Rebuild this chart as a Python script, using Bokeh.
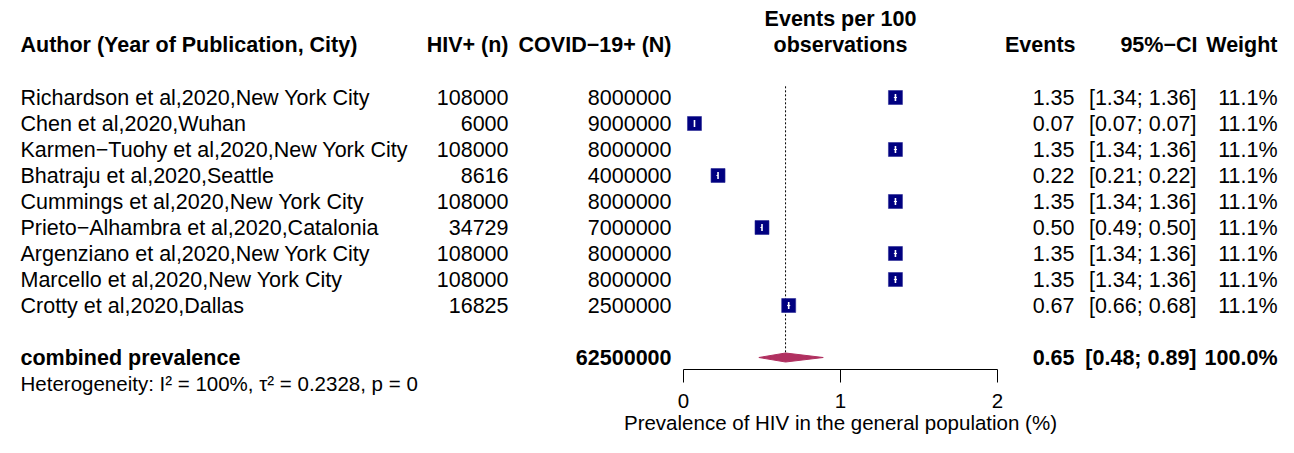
from bokeh.plotting import figure
from bokeh.models import ColumnDataSource, Range1d, FixedTicker
from bokeh.embed import file_html
from bokeh.resources import INLINE
from bokeh.core.properties import value

# ---------------- data ----------------
authors = [
    "Richardson et al,2020,New York City",
    "Chen et al,2020,Wuhan",
    "Karmen\u2212Tuohy et al,2020,New York City",
    "Bhatraju et al,2020,Seattle",
    "Cummings et al,2020,New York City",
    "Prieto\u2212Alhambra et al,2020,Catalonia",
    "Argenziano et al,2020,New York City",
    "Marcello et al,2020,New York City",
    "Crotty et al,2020,Dallas",
]
hiv_n = [108000, 6000, 108000, 8616, 108000, 34729, 108000, 108000, 16825]
covid_n = [8000000, 9000000, 8000000, 4000000, 8000000, 7000000, 8000000, 8000000, 2500000]
events = [1.35, 0.07, 1.35, 0.22, 1.35, 0.50, 1.35, 1.35, 0.67]
ci_lo = [1.34, 0.07, 1.34, 0.21, 1.34, 0.49, 1.34, 1.34, 0.66]
ci_hi = [1.36, 0.07, 1.36, 0.22, 1.36, 0.50, 1.36, 1.36, 0.68]
weights = [11.1, 11.1, 11.1, 11.1, 11.1, 11.1, 11.1, 11.1, 11.1]

pooled_label = "combined prevalence"
pooled_total = 62500000
pooled_est = 0.65
pooled_lo = 0.48
pooled_hi = 0.89
pooled_weight = 100.0
het_text = "Heterogeneity: I\u00b2 = 100%, \u03c4\u00b2 = 0.2328, p = 0"

axis_ticks = [0, 1, 2]
axis_title = "Prevalence of HIV in the general population (%)"

# ---------------- layout helpers ----------------
W, H = 1278, 437
X0_PIX, UNIT = 683.0, 157.0      # pixel of x=0, pixels per unit
ROW0_PIX, ROWH = 97.0, 26.0      # pixel of first row, row height


def px(pix_x):
    return (pix_x - X0_PIX) / UNIT


def row(pix_y):
    return (pix_y - ROW0_PIX) / ROWH


FONT = value("Liberation Sans")
FS = value("21.5px")

p = figure(width=W, height=H, output_backend="svg", toolbar_location=None,
           x_range=Range1d(px(0), px(W)),
           y_range=Range1d(row(H), row(0)),
           y_axis_location=None, min_border=0,
           min_border_left=0, min_border_right=0,
           min_border_top=0, min_border_bottom=0)
p.outline_line_color = None
p.grid.visible = False
p.background_fill_color = "white"
p.border_fill_color = "white"

rows = list(range(len(authors)))
src = ColumnDataSource(dict(
    y=rows,
    author=authors,
    hiv=[str(v) for v in hiv_n],
    covid=[str(v) for v in covid_n],
    ev=["%.2f" % v for v in events],
    ci=["[%.2f; %.2f]" % (a, b) for a, b in zip(ci_lo, ci_hi)],
    w=["%.1f%%" % v for v in weights],
    est=events,
    lo=ci_lo,
    hi=ci_hi,
))

common = dict(text_font=FONT, text_font_size=FS, text_baseline="middle", text_color="black")
bold = dict(common, text_font_style="bold")

# study rows text
p.text(x=px(20), y="y", text="author", source=src, text_align="left", **common)
p.text(x=px(508), y="y", text="hiv", source=src, text_align="right", **common)
p.text(x=px(671), y="y", text="covid", source=src, text_align="right", **common)
p.text(x=px(1074), y="y", text="ev", source=src, text_align="right", **common)
p.text(x=px(1196), y="y", text="ci", source=src, text_align="right", **common)
p.text(x=px(1277), y="y", text="w", source=src, text_align="right", **common)

# headers
hy = row(44)
p.text(x=[px(20)], y=[hy], text=["Author (Year of Publication, City)"], text_align="left", **bold)
p.text(x=[px(508)], y=[hy], text=["HIV+ (n)"], text_align="right", **bold)
p.text(x=[px(671)], y=[hy], text=["COVID\u221219+ (N)"], text_align="right", **bold)
p.text(x=[1.0, 1.0], y=[row(18), hy], text=["Events per 100", "observations"],
       text_align="center", **bold)
p.text(x=[px(1075)], y=[hy], text=["Events"], text_align="right", **bold)
p.text(x=[px(1197)], y=[hy], text=["95%\u2212CI"], text_align="right", **bold)
p.text(x=[px(1277)], y=[hy], text=["Weight"], text_align="right", **bold)

# pooled row
py_ = len(authors) + 1
p.text(x=[px(20)], y=[py_], text=[pooled_label], text_align="left", **bold)
p.text(x=[px(671)], y=[py_], text=[str(pooled_total)], text_align="right", **bold)
p.text(x=[px(1074)], y=[py_], text=["%.2f" % pooled_est], text_align="right", **bold)
p.text(x=[px(1196)], y=[py_], text=["[%.2f; %.2f]" % (pooled_lo, pooled_hi)], text_align="right", **bold)
p.text(x=[px(1277)], y=[py_], text=["%.1f%%" % pooled_weight], text_align="right", **bold)

# heterogeneity
p.text(x=[px(20)], y=[py_ + 1], text=[het_text], text_align="left",
       text_font=FONT, text_font_size=value("20.5px"), text_baseline="middle", text_color="black")

# reference line at pooled estimate
p.segment(x0=[pooled_est], x1=[pooled_est], y0=[-0.43], y1=[py_ - 0.18],
          line_color="black", line_width=1, line_dash="2 2")

# squares + inner CI (white)
p.scatter(x="est", y="y", source=src, marker="square", size=14,
          fill_color="#000080", line_color="#2a2a95", line_width=0.6)
p.segment(x0="lo", x1="hi", y0="y", y1="y", source=src, line_color="white", line_width=1.2)
p.rect(x="est", y="y", width=1.6, height=7, width_units="screen", height_units="screen",
       source=src, fill_color="white", line_color=None)

# diamond
dh = 4.5 / ROWH
p.patch(x=[pooled_lo, pooled_est, pooled_hi, pooled_est],
        y=[py_, py_ - dh, py_, py_ + dh],
        fill_color="#B03060", line_color="#B03060", line_width=1)

# x axis drawn at a fixed location inside the plot area
ax = p.xaxis[0]
ax.fixed_location = row(369)
ax.bounds = (0, 2)
ax.ticker = FixedTicker(ticks=axis_ticks)
ax.minor_tick_line_color = None
ax.major_tick_out = 13
ax.major_tick_in = 0
ax.axis_line_color = "black"
ax.major_tick_line_color = "black"
ax.major_label_text_font = "Liberation Sans"
ax.major_label_text_font_size = "20.5px"
ax.major_label_text_color = "black"
ax.major_label_standoff = 11
ax.axis_label = axis_title
ax.axis_label_text_font = "Liberation Sans"
ax.axis_label_text_font_size = "20.5px"
ax.axis_label_text_font_style = "normal"
ax.axis_label_text_color = "black"
ax.axis_label_standoff = 0

open("out.html", "w").write(file_html(p, INLINE))
